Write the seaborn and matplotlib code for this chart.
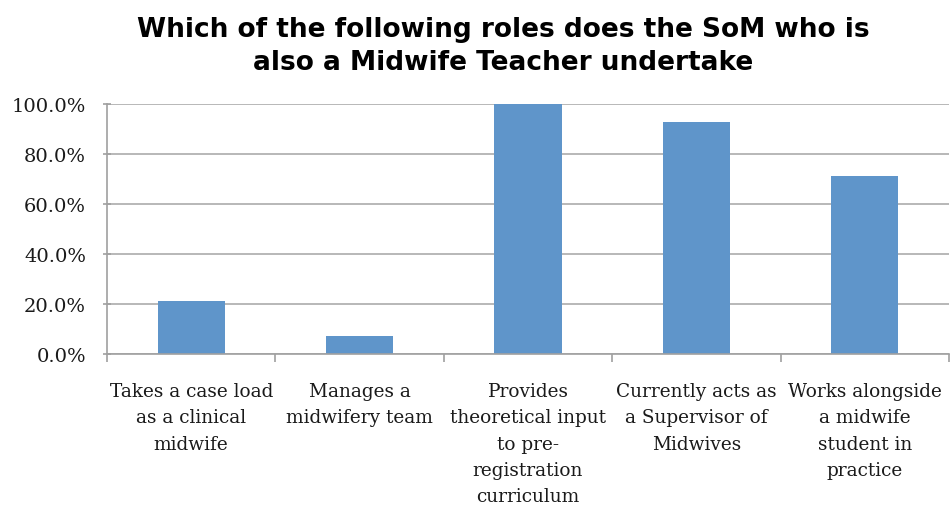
import matplotlib
matplotlib.use("Agg")
import matplotlib.pyplot as plt
import seaborn as sns
import pandas as pd
from matplotlib.ticker import FuncFormatter

categories = [
    "Takes a case load\nas a clinical\nmidwife",
    "Manages a\nmidwifery team",
    "Provides\ntheoretical input\nto pre-\nregistration\ncurriculum",
    "Currently acts as\na Supervisor of\nMidwives",
    "Works alongside\na midwife\nstudent in\npractice",
]
values = [21.4, 7.1, 100.0, 92.9, 71.4]
yticks = [0, 20, 40, 60, 80, 100]

df = pd.DataFrame({"role": categories, "pct": values})

sns.set_theme(style="white")
fig = plt.figure(figsize=(9.51, 5.10), dpi=100)
ax = fig.add_axes([107/951, 1-355/510, (949-107)/951, 250/510])

sns.barplot(data=df, x="role", y="pct", color="#5f95ca", width=0.4,
            saturation=1, ax=ax, edgecolor="none")

ax.set_ylim(0, 100)
ax.set_xlim(-0.5, 4.5)
ax.set_yticks(yticks)
ax.yaxis.set_major_formatter(FuncFormatter(lambda v, p: f"{v:.1f}%"))
ax.grid(axis="y", color="#ababab", linewidth=1.2)
ax.set_axisbelow(True)
ax.set_xlabel("")
ax.set_ylabel("")
for s in ["top", "right"]:
    ax.spines[s].set_visible(False)
for s in ["left", "bottom"]:
    ax.spines[s].set_color("#a0a0a0")
    ax.spines[s].set_linewidth(1.2)

# category boundary ticks on x axis
ax.set_xticks([i - 0.5 for i in range(6)], minor=True)
ax.tick_params(axis="x", which="minor", length=6, width=1.2, color="#a0a0a0", direction="out", bottom=True)
ax.tick_params(axis="x", which="major", length=0, pad=20)
ax.tick_params(axis="y", which="major", length=6, width=1.2, color="#a0a0a0", direction="inout", left=True, pad=12)

fig.text(0.529, 1 - 17/510, "Which of the following roles does the SoM who is\nalso a Midwife Teacher undertake",
         ha="center", va="top", fontsize=19, fontweight="bold",
         fontfamily="DejaVu Sans", linespacing=1.33, color="black")

fig.canvas.draw()
for lab in ax.get_xticklabels():
    lab.set_fontfamily("DejaVu Serif")
    lab.set_fontsize(13.3)
    lab.set_color("#1a1a1a")
    lab.set_linespacing(1.6)
for lab in ax.get_yticklabels():
    lab.set_fontfamily("DejaVu Serif")
    lab.set_fontsize(14)
    lab.set_color("#1a1a1a")

fig.savefig("out.png", dpi=100, facecolor="white")
